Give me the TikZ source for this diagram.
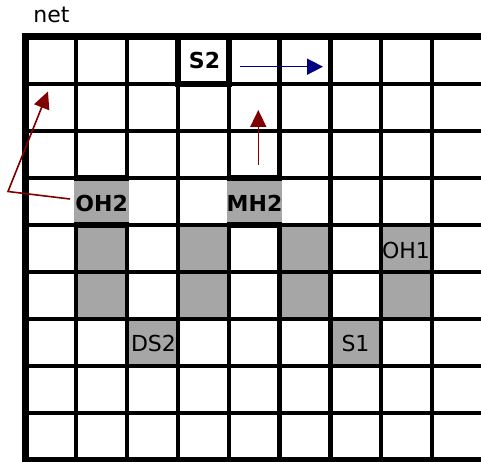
\documentclass[tikz,border=0pt]{standalone}
\usepackage{fontspec}
\setmainfont{DejaVu Sans}
\usetikzlibrary{arrows.meta}
\definecolor{cellgray}{RGB}{166,166,166}
\definecolor{arrowred}{RGB}{128,0,0}
\definecolor{arrowblue}{RGB}{0,0,128}
\tikzset{
  gridline/.style={line width=4.2pt, black},
  frameline/.style={line width=7pt, black},
  boldline/.style={line width=6pt, black},
  lbl/.style={anchor=base, inner sep=0pt, font=\fontsize{22}{25}\selectfont},
  boldlbl/.style={lbl, font=\fontsize{22}{25}\selectfont\bfseries},
  redarrow/.style={draw=arrowred, line width=1.6pt, -{Triangle[length=17pt,width=16pt]}},
  bluearrow/.style={draw=arrowblue, line width=1.6pt, -{Triangle[length=16pt,width=16pt]}}
}
\begin{document}
\begin{tikzpicture}[x=1pt,y=-1pt]
\useasboundingbox (0,0) rectangle (481,462);
\clip (0,0) rectangle (481,462);
\fill[white] (0,0) rectangle (481,462);
\begin{scope}[shift={(25,37)}, x=50.9pt, y=-47pt]
  % gray cells under the grid
  \fill[cellgray] (1,4) rectangle (2,6);
  \fill[cellgray] (3,4) rectangle (4,6);
  \fill[cellgray] (5,4) rectangle (6,6);
  \fill[cellgray] (7,4) rectangle (8,6);
  \fill[cellgray] (2,6) rectangle (3,7);
  \fill[cellgray] (6,6) rectangle (7,7);
  % grid
  \foreach \i in {1,...,8} {
    \draw[gridline] (\i,0) -- (\i,9);
    \draw[gridline] (0,\i) -- (9.2,\i);
  }
  \draw[frameline] (9.2,0) -- (0,0) -- (0,9) -- (9.2,9);
  % label cells drawn over the grid
  \fill[cellgray] ([xshift=-2.1pt]1,3) rectangle ([xshift=2.1pt]2,4);
  \fill[cellgray] ([xshift=-2.1pt]4,3) rectangle ([xshift=2.1pt]5,4);
  \draw[boldline] ([xshift=-2.1pt]1,3) -- ([xshift=2.1pt]2,3);
  \draw[boldline] ([xshift=-2.1pt]1,4) -- ([xshift=2.1pt]2,4);
  \draw[boldline] ([xshift=-2.1pt]4,3) -- ([xshift=2.1pt]5,3);
  \draw[boldline] ([xshift=-2.1pt]4,4) -- ([xshift=2.1pt]5,4);
  \draw[boldline] (3,0) rectangle (4,1);
  \draw[frameline] (0,0) -- (9.2,0);
\end{scope}
% labels
\node[lbl] (net) at (51.5,23) {net};
\node[boldlbl] (s2) at (204.5,68.3) {S2};
\node[boldlbl] (oh2) at (101.7,211.7) {OH2};
\node[boldlbl] (mh2) at (254.5,211.7) {MH2};
\node[lbl] (oh1) at (406,258.3) {OH1};
\node[lbl] (ds2) at (153.5,351.7) {DS2};
\node[lbl] (s1) at (355.5,351.7) {S1};
% arrows
\coordinate (b0) at (240,66.7);
\coordinate (b1) at (323,66.7);
\draw[bluearrow] (b0) -- (b1);
\coordinate (v0) at (258.3,165);
\coordinate (v1) at (258.3,110);
\draw[redarrow] (v0) -- (v1);
\coordinate (r0) at (70,199);
\coordinate (r1) at (8,191.5);
\coordinate (r2) at (48,91.5);
\draw[redarrow] (r0) -- (r1) -- (r2);
\end{tikzpicture}
\end{document}
